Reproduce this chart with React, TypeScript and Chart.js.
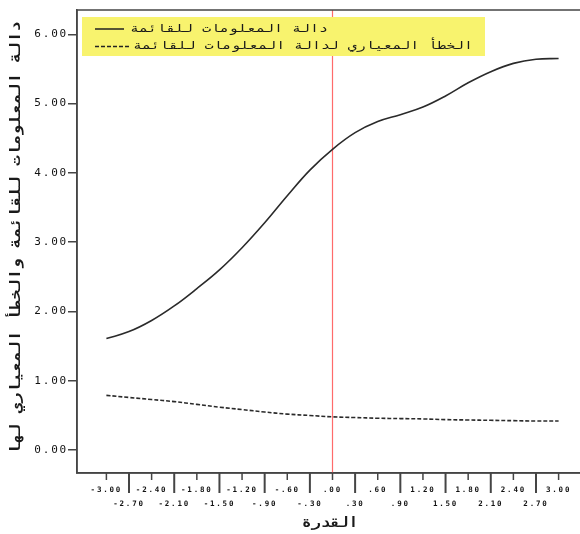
import React, { useEffect, useRef } from 'react';
import { Chart, registerables } from 'chart.js';

Chart.register(...registerables);

// ---- data ----
const ABILITY = [-3, -2.7, -2.4, -2.1, -1.8, -1.5, -1.2, -0.9, -0.6, -0.3, 0, 0.3, 0.6, 0.9, 1.2, 1.5, 1.8, 2.1, 2.4, 2.7, 3];
const TEST_INFO = [1.61, 1.71, 1.87, 2.08, 2.33, 2.6, 2.92, 3.28, 3.67, 4.04, 4.34, 4.58, 4.74, 4.84, 4.95, 5.11, 5.3, 5.46, 5.58, 5.64, 5.65];
const STD_ERROR = [0.79, 0.76, 0.73, 0.7, 0.66, 0.62, 0.585, 0.55, 0.52, 0.5, 0.48, 0.47, 0.46, 0.455, 0.45, 0.44, 0.435, 0.43, 0.425, 0.42, 0.42];
const X_TICKS = [-3, -2.7, -2.4, -2.1, -1.8, -1.5, -1.2, -0.9, -0.6, -0.3, 0, 0.3, 0.6, 0.9, 1.2, 1.5, 1.8, 2.1, 2.4, 2.7, 3];
const Y_TICKS = [0, 1, 2, 3, 4, 5, 6];
const REF_X = 0;
const INFO_LABEL = 'دالة المعلومات للقائمة';
const SE_LABEL = 'الخطأ المعياري لدالة المعلومات للقائمة';
const X_TITLE = 'القدرة';
const Y_TITLE = 'دالة المعلومات للقائمة والخطأ المعياري لها';

const MONO = '"DejaVu Sans Mono", "Liberation Mono", monospace';
const AXIS_COLOR = '#454545';

const fmtX = (v: number) => {
  const s = Math.abs(v).toFixed(2).replace(/^0/, '');
  return (v < 0 ? '-' : '') + s;
};

// draw text stretched horizontally to a target width
function stretchText(ctx: CanvasRenderingContext2D, text: string, x: number, y: number, target: number) {
  (ctx as any).letterSpacing = '0px';
  const w = ctx.measureText(text).width || 1;
  const sx = target / w;
  ctx.save();
  ctx.translate(x, y);
  ctx.scale(sx, 1);
  ctx.fillText(text, 0, 0);
  ctx.restore();
}

const decor = {
  id: 'decor',
  beforeDraw(chart: any) {
    (chart.ctx as any).letterSpacing = '1.8px';
  },
  beforeDatasetsDraw(chart: any) {
    const { ctx, chartArea: a, scales } = chart;
    ctx.save();
    (ctx as any).letterSpacing = '0px';
    const px = scales.x.getPixelForValue(REF_X);
    ctx.strokeStyle = '#ff6b6b';
    ctx.lineWidth = 1.2;
    ctx.beginPath();
    ctx.moveTo(px, a.top);
    ctx.lineTo(px, a.bottom);
    ctx.stroke();
    ctx.restore();
  },
  afterDraw(chart: any) {
    const { ctx, chartArea: a, scales } = chart;
    ctx.save();
    (ctx as any).letterSpacing = '0px';
    // frame
    ctx.strokeStyle = AXIS_COLOR;
    ctx.lineWidth = 1.5;
    ctx.strokeRect(a.left, a.top, a.right - a.left, a.bottom - a.top);
    // x tick marks
    X_TICKS.forEach((v, i) => {
      const px = scales.x.getPixelForValue(v);
      ctx.beginPath();
      ctx.lineWidth = i % 2 === 0 ? 1.5 : 2;
      ctx.moveTo(px, a.bottom);
      ctx.lineTo(px, a.bottom + (i % 2 === 0 ? 7 : 20));
      ctx.stroke();
    });
    // legend
    const ds = chart.data.datasets;
    ctx.fillStyle = '#f8f36e';
    ctx.fillRect(82, 17, 403, 39);
    const rows = [29, 46.5];
    ds.forEach((d: any, i: number) => {
      const y = rows[i];
      ctx.strokeStyle = '#222';
      ctx.lineWidth = 1.5;
      ctx.setLineDash(d.borderDash || []);
      ctx.beginPath();
      ctx.moveTo(95, y);
      ctx.lineTo(i === 0 ? 124 : 130, y);
      ctx.stroke();
      ctx.setLineDash([]);
      ctx.fillStyle = '#1a1a1a';
      ctx.font = '11px ' + MONO;
      ctx.textAlign = 'left';
      ctx.textBaseline = 'middle';
      stretchText(ctx, d.label, i === 0 ? 130 : 133, y, i === 0 ? 198 : 340);
    });
    // x title
    ctx.fillStyle = '#1a1a1a';
    ctx.font = 'bold 14px ' + MONO;
    ctx.textAlign = 'center';
    ctx.textBaseline = 'middle';
    stretchText(ctx, X_TITLE, 330, 523, 56);
    // y title
    ctx.translate(16, 238);
    ctx.rotate(-Math.PI / 2);
    stretchText(ctx, Y_TITLE, 0, 0, 433);
    ctx.restore();
  },
};

export default function App() {
  const ref = useRef<HTMLCanvasElement | null>(null);
  useEffect(() => {
    if (!ref.current) return;
    const chart = new Chart(ref.current, {
      type: 'line',
      data: {
        datasets: [
          {
            label: INFO_LABEL,
            data: ABILITY.map((x, i) => ({ x, y: TEST_INFO[i] })),
            borderColor: '#2a2a2a',
            borderWidth: 1.6,
            pointRadius: 0,
            tension: 0.4,
            fill: false,
          },
          {
            label: SE_LABEL,
            data: ABILITY.map((x, i) => ({ x, y: STD_ERROR[i] })),
            borderColor: '#2a2a2a',
            borderWidth: 1.6,
            borderDash: [4, 2],
            pointRadius: 0,
            tension: 0.4,
            fill: false,
          },
        ],
      },
      options: {
        animation: false,
        responsive: false,
        layout: { padding: { top: 10, right: 12, left: 0, bottom: 0 } },
        plugins: { legend: { display: false }, tooltip: { enabled: false } },
        scales: {
          x: {
            type: 'linear',
            min: -3.39,
            max: 3.39,
            afterBuildTicks: (s: any) => {
              s.ticks = X_TICKS.map((v) => ({ value: v }));
            },
            afterFit: (s: any) => {
              s.height = 61;
            },
            grid: { display: false },
            border: { display: true, color: AXIS_COLOR, width: 1.5 },
            ticks: {
              autoSkip: false,
              maxRotation: 0,
              minRotation: 0,
              padding: 2.5,
              color: '#111',
              font: { family: MONO, size: 7.5, weight: 'bold', lineHeight: 1.8 },
              callback: (v: any, i: number) => (i % 2 === 0 ? [fmtX(Number(v)), ''] : ['', fmtX(Number(v))]),
            },
          },
          y: {
            type: 'linear',
            min: -0.33,
            max: 6.35,
            afterBuildTicks: (s: any) => {
              s.ticks = Y_TICKS.map((v) => ({ value: v }));
            },
            afterFit: (s: any) => {
              s.width = 77;
            },
            grid: { display: true, drawOnChartArea: false, drawTicks: true, tickLength: 9, color: AXIS_COLOR, lineWidth: 1.5 },
            border: { display: true, color: AXIS_COLOR, width: 1.5 },
            ticks: {
              padding: 0,
              color: '#111',
              font: { family: MONO, size: 11 },
              callback: (v: any) => Number(v).toFixed(2),
            },
          },
        },
      },
      plugins: [decor],
    } as any);
    return () => chart.destroy();
  }, []);
  return (
    <div style={{ position: 'fixed', left: 0, top: 0, width: 600, height: 534, background: '#fff' }}>
      <canvas ref={ref} width={600} height={534} style={{ display: 'block' }} />
    </div>
  );
}
